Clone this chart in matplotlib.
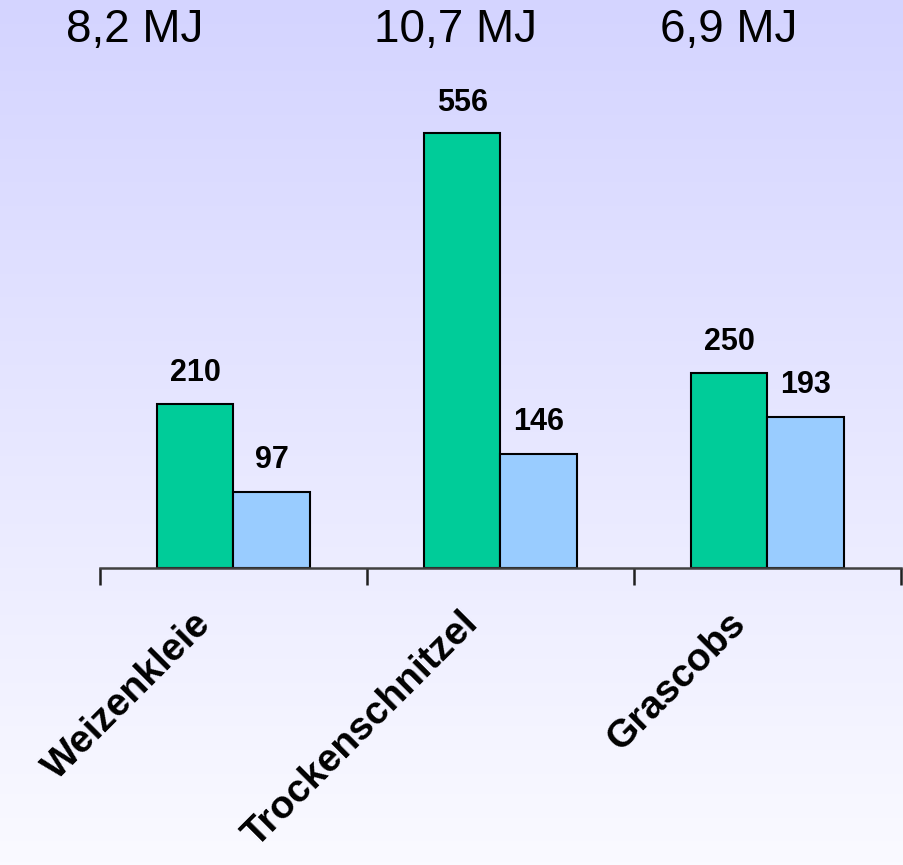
import numpy as np
import matplotlib
matplotlib.use("Agg")
import matplotlib.pyplot as plt

plt.rcParams["font.family"] = ["Liberation Sans", "DejaVu Sans"]

categories = ["Weizenkleie", "Trockenschnitzel", "Grascobs"]
green_vals = [210, 556, 250]
blue_vals = [97, 146, 193]
energy_labels = ["8,2 MJ", "10,7 MJ", "6,9 MJ"]

fig = plt.figure(figsize=(9.04, 8.65), dpi=100)

# background gradient, lavender at the top fading to near white
bg = fig.add_axes([0, 0, 1, 1], zorder=-10)
top = np.array([212, 212, 255]) / 255
bot = np.array([250, 250, 255]) / 255
t = np.linspace(0, 1, 256)[:, None, None]
grad = top * (1 - t) + bot * t
bg.imshow(np.repeat(grad, 2, axis=1), aspect="auto", extent=[0, 1, 0, 1])
bg.axis("off")

ax = fig.add_axes([100 / 904, (865 - 568) / 865, 801 / 904, 469 / 865])
ax.set_facecolor("none")

x = np.arange(len(categories))
w = 0.285
ax.bar(x - w / 2, green_vals, w, color="#00CC99", edgecolor="black", lw=1.5)
ax.bar(x + w / 2, blue_vals, w, color="#99CCFF", edgecolor="black", lw=1.5)

for xi, v in zip(x - w / 2, green_vals):
    ax.annotate(str(v), (xi, v), xytext=(0, 22), textcoords="offset points",
                ha="center", va="center", fontsize=22, fontweight="bold")
for xi, v in zip(x + w / 2, blue_vals):
    ax.annotate(str(v), (xi, v), xytext=(0, 23), textcoords="offset points",
                ha="center", va="center", fontsize=22, fontweight="bold")

ax.set_xlim(-0.5, 2.5)
ax.set_ylim(0, 600)
for s in ["top", "right", "left"]:
    ax.spines[s].set_visible(False)
ax.spines["bottom"].set_color("#404040")
ax.spines["bottom"].set_linewidth(1.8)
ax.set_yticks([])
ax.set_xticks([-0.5, 0.5, 1.5, 2.5])
ax.set_xticklabels([])
ax.tick_params(axis="x", length=12, width=1.8, color="#202020")

# category labels, rotated
for i, name in enumerate(categories):
    ax.annotate(name, (i, 0), xycoords=("data", "axes fraction"),
                xytext=(-29, -27), textcoords="offset points",
                rotation=45, rotation_mode="anchor", ha="right", va="top",
                fontsize=28, fontweight="bold")

# energy values across the top
for xp, lab in zip([135, 456, 729], energy_labels):
    fig.text(xp / 904, 1 - 30 / 865, lab, ha="center", va="center", fontsize=33)

fig.savefig("out.png", dpi=100)
